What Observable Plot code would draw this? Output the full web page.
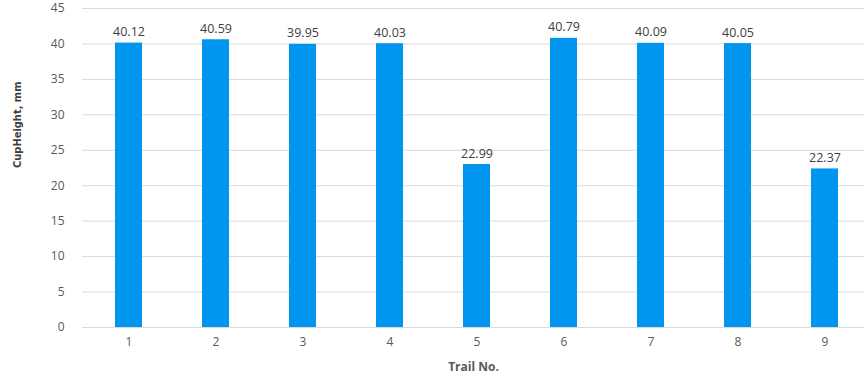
<!DOCTYPE html>
<html>
<head>
<meta charset="utf-8">
<script src="https://cdn.jsdelivr.net/npm/d3@7"></script>
<script src="https://cdn.jsdelivr.net/npm/@observablehq/plot@0.6"></script>
<style>
  html, body { margin: 0; padding: 0; background: #fff; }
  svg { display: block; }
</style>
</head>
<body>
<div id="chart"></div>
<script>
// Cup height per trial
const trials = ["1", "2", "3", "4", "5", "6", "7", "8", "9"];
const cupHeight = [40.12, 40.59, 39.95, 40.03, 22.99, 40.79, 40.09, 40.05, 22.37];
const yTicks = [0, 5, 10, 15, 20, 25, 30, 35, 40, 45];

const data = trials.map((t, i) => ({trial: t, height: cupHeight[i]}));

const chart = Plot.plot({
  width: 864,
  height: 376,
  marginTop: 8,
  marginBottom: 49,
  marginLeft: 82,
  marginRight: 0,
  style: {fontFamily: "'Open Sans', sans-serif", fontSize: "12px", color: "#595959", background: "#fff"},
  x: {domain: trials, range: [82, 870], paddingInner: 0.69, paddingOuter: 0.345, label: null},
  y: {domain: [0, 45], ticks: yTicks, label: null},
  marks: [
    Plot.ruleY(yTicks, {stroke: "#d9d9d9", strokeWidth: 1}),
    Plot.barY(data, {x: "trial", y: "height", fill: "#0095ef"}),
    Plot.text(data, {
      x: "trial", y: "height", text: d => d.height.toFixed(2),
      dy: -11, fill: "#404040", fontSize: 12.5
    }),
    Plot.axisX({tickSize: 0, tickPadding: 10, fill: "#595959", fontSize: 12}),
    Plot.axisY({ticks: yTicks, tickSize: 0, tickPadding: 18, fill: "#595959", fontSize: 12}),
    Plot.text(["Trail No."], {
      frameAnchor: "bottom", dy: 43, fill: "#595959",
      fontWeight: "bold", fontSize: 12
    }),
    Plot.text(["CupHeight, mm"], {
      frameAnchor: "left", dx: -65, rotate: -90, fill: "#404040",
      fontWeight: "bold", fontSize: 11,
      fontFamily: "'DejaVu Sans Condensed', 'Liberation Sans Narrow', sans-serif"
    })
  ]
});

document.getElementById("chart").appendChild(chart);
</script>
</body>
</html>
